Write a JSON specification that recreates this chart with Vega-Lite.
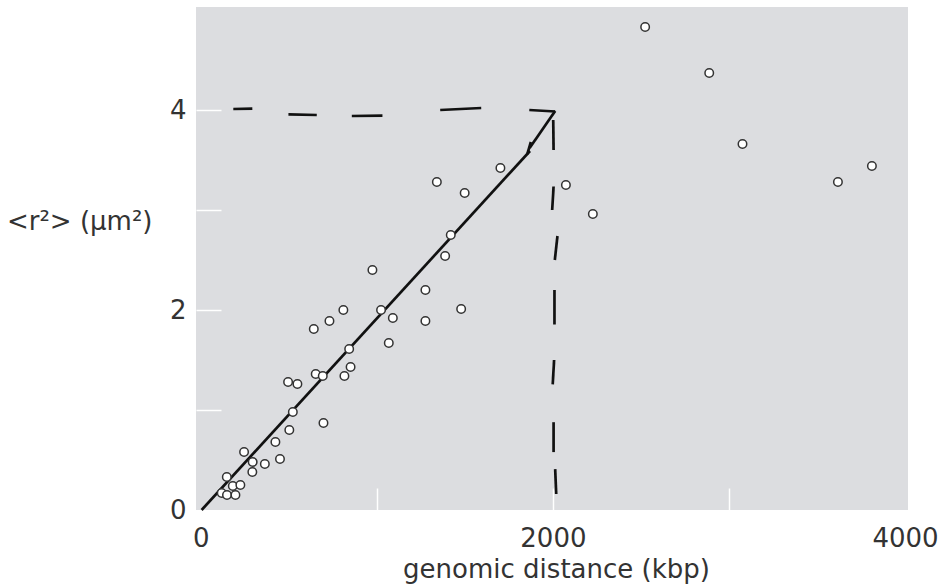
{
  "$schema": "https://vega.github.io/schema/vega-lite/v6.json",
  "width": 712,
  "height": 503,
  "autosize": "none",
  "padding": {"left": 196, "top": 7, "right": 35, "bottom": 76},
  "background": "white",
  "config": {
    "view": {"fill": "#dcdde0", "stroke": null},
    "font": "DejaVu Sans",
    "axis": {
      "domain": false,
      "grid": false,
      "tickColor": "white",
      "tickWidth": 1.5,
      "labelFont": "DejaVu Sans",
      "labelFontSize": 26,
      "labelColor": "#333333",
      "titleFont": "DejaVu Sans",
      "titleFontSize": 26,
      "titleFontWeight": "normal",
      "titleColor": "#333333"
    }
  },
  "datasets": {
    "segments": [
      {"part": "hdash", "x": 185, "y": 4.01, "x2": 293, "y2": 4.013},
      {"part": "hdash", "x": 498, "y": 3.957, "x2": 659, "y2": 3.95},
      {"part": "hdash", "x": 858, "y": 3.94, "x2": 1032, "y2": 3.943},
      {"part": "hdash", "x": 1360, "y": 4.0, "x2": 1593, "y2": 4.02},
      {"part": "hdash", "x": 1866, "y": 4.0, "x2": 2013, "y2": 3.985},
      {"part": "vdash", "x": 2002, "y": 3.9, "x2": 2004, "y2": 3.6},
      {"part": "vdash", "x": 2004, "y": 3.235, "x2": 1996, "y2": 3.0},
      {"part": "vdash", "x": 2026, "y": 2.74, "x2": 2011, "y2": 2.5},
      {"part": "vdash", "x": 2009, "y": 2.2, "x2": 2009, "y2": 1.855},
      {"part": "vdash", "x": 2007, "y": 1.5, "x2": 1999, "y2": 1.257},
      {"part": "vdash", "x": 2004, "y": 0.878, "x2": 2004, "y2": 0.579},
      {"part": "vdash", "x": 2013, "y": 0.409, "x2": 2019, "y2": 0.16},
      {"part": "fit", "x": 5, "y": 0.0, "x2": 1870, "y2": 3.59},
      {"part": "arrow", "x": 1868, "y": 3.62, "x2": 2013, "y2": 3.99},
      {"part": "arrow", "x": 1855, "y": 3.56, "x2": 1875, "y2": 3.68}
    ],
    "points": [
      {"distance": 2524, "r2": 4.83},
      {"distance": 2888, "r2": 4.37},
      {"distance": 3077, "r2": 3.66},
      {"distance": 3619, "r2": 3.28},
      {"distance": 3812, "r2": 3.44},
      {"distance": 2074, "r2": 3.25},
      {"distance": 2227, "r2": 2.96},
      {"distance": 1702, "r2": 3.42},
      {"distance": 1341, "r2": 3.28},
      {"distance": 1499, "r2": 3.17},
      {"distance": 1420, "r2": 2.75},
      {"distance": 1388, "r2": 2.54},
      {"distance": 975, "r2": 2.4},
      {"distance": 1276, "r2": 2.2},
      {"distance": 1479, "r2": 2.01},
      {"distance": 1276, "r2": 1.89},
      {"distance": 810, "r2": 2.0},
      {"distance": 731, "r2": 1.89},
      {"distance": 642, "r2": 1.81},
      {"distance": 1024, "r2": 2.0},
      {"distance": 1091, "r2": 1.92},
      {"distance": 1068, "r2": 1.67},
      {"distance": 843, "r2": 1.61},
      {"distance": 851, "r2": 1.43},
      {"distance": 816, "r2": 1.34},
      {"distance": 653, "r2": 1.36},
      {"distance": 693, "r2": 1.34},
      {"distance": 496, "r2": 1.28},
      {"distance": 549, "r2": 1.26},
      {"distance": 523, "r2": 0.98},
      {"distance": 697, "r2": 0.87},
      {"distance": 503, "r2": 0.8},
      {"distance": 424, "r2": 0.68},
      {"distance": 450, "r2": 0.51},
      {"distance": 364, "r2": 0.46},
      {"distance": 246, "r2": 0.58},
      {"distance": 295, "r2": 0.48},
      {"distance": 293, "r2": 0.38},
      {"distance": 148, "r2": 0.33},
      {"distance": 182, "r2": 0.24},
      {"distance": 225, "r2": 0.25},
      {"distance": 119, "r2": 0.17},
      {"distance": 149, "r2": 0.15},
      {"distance": 197, "r2": 0.15}
    ]
  },
  "layer": [
    {
      "data": {"name": "segments"},
      "mark": {"type": "rule", "color": "#111111", "strokeWidth": 2.7, "strokeCap": "butt"},
      "encoding": {
        "x": {
          "field": "x", "type": "quantitative",
          "scale": {"domain": [-27, 4017], "nice": false, "zero": false},
          "axis": {
            "values": [0, 1000, 2000, 3000, 4000],
            "format": "d",
            "labelExpr": "datum.value % 2000 === 0 ? datum.label : ''",
            "tickSize": -22,
            "tickOpacity": {"condition": {"test": "datum.value === 0 || datum.value === 4000", "value": 0}, "value": 1},
            "labelPadding": 37,
            "labelBaseline": "top",
            "title": "genomic distance (kbp)",
            "titleX": 360,
            "titleY": 67,
            "titleBaseline": "alphabetic"
          }
        },
        "y": {
          "field": "y", "type": "quantitative",
          "scale": {"domain": [0, 5.03], "nice": false, "zero": false},
          "axis": {
            "values": [0, 1, 2, 3, 4],
            "format": "d",
            "labelExpr": "datum.value % 2 === 0 ? datum.label : ''",
            "tickSize": -25,
            "tickOpacity": {"condition": {"test": "datum.value === 0", "value": 0}, "value": 1},
            "labelPadding": 35,
            "labelAlign": "right",
            "labelBaseline": "middle",
            "title": "<r²> (µm²)",
            "titleAngle": 0,
            "titleAlign": "right",
            "titleBaseline": "middle",
            "titleX": -44,
            "titleY": 214
          }
        },
        "x2": {"field": "x2"},
        "y2": {"field": "y2"}
      }
    },
    {
      "data": {"name": "points"},
      "mark": {"type": "point", "shape": "circle", "filled": false, "fill": "white", "fillOpacity": 1, "stroke": "#333333", "strokeWidth": 1.5, "opacity": 1, "size": 72},
      "encoding": {
        "x": {"field": "distance", "type": "quantitative"},
        "y": {"field": "r2", "type": "quantitative"}
      }
    }
  ]
}
